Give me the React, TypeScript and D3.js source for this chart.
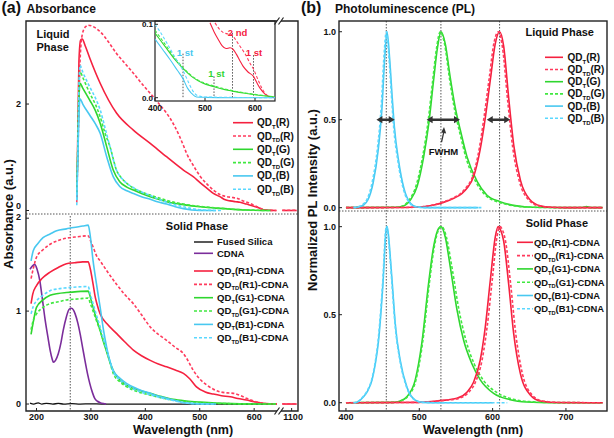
import React from "react";
import * as d3 from "d3";

// ---------------- DATA ----------------
// Absorbance, liquid phase  [wavelength nm, absorbance]
const absLiqRT = [[274,0.2],[276,1.5],[278,2.8],[281,3.2],[284,3.22],[290,3.08],[298,2.86],[317,2.39],[347,1.83],[378,1.51],[409,1.26],[439,1.01],[470,0.76],[488,0.635],[500,0.53],[513,0.42],[525,0.32],[537,0.26],[547,0.2],[556,0.18],[566,0.165],[574,0.155],[586,0.12],[598,0.085],[608,0.05],[617,0.015],[630,0.003],[641,0]];
const absLiqRTD = [[274,0.15],[277,1.5],[280,2.8],[284,3.3],[290,3.45],[295,3.48],[305,3.45],[317,3.36],[332,3.17],[347,2.95],[362,2.77],[378,2.58],[393,2.39],[409,2.2],[424,2.02],[439,1.83],[452,1.62],[463,1.39],[470,1.22],[476,1.07],[488,0.85],[501,0.64],[513,0.5],[525,0.385],[537,0.3],[550,0.26],[560,0.245],[568,0.23],[580,0.18],[592,0.135],[605,0.07],[617,0.02],[630,0.003],[641,0]];
const absLiqGT = [[274,0.3],[276,1.2],[278,2.1],[280,2.39],[285,2.3],[298,2.07],[308,1.88],[317,1.64],[329,1.2],[341,0.76],[353,0.54],[366,0.44],[378,0.385],[393,0.32],[409,0.26],[424,0.21],[439,0.165],[470,0.11],[501,0.07],[530,0.045],[562,0.02],[600,0.005],[630,0]];
const absLiqGTD = [[274,0.2],[276,1.3],[278,2.3],[280,2.61],[285,2.5],[298,2.2],[308,2.0],[317,1.76],[326,1.45],[335,1.2],[347,0.76],[357,0.6],[366,0.51],[378,0.42],[390,0.36],[409,0.29],[427,0.23],[439,0.19],[470,0.12],[501,0.075],[530,0.048],[562,0.022],[600,0.006],[630,0]];
const absLiqBT = [[274,0.2],[276,1.0],[278,1.8],[280,2.1],[285,2.0],[298,1.79],[308,1.63],[317,1.45],[329,1.01],[341,0.635],[353,0.45],[366,0.37],[378,0.32],[393,0.26],[409,0.21],[424,0.16],[439,0.12],[455,0.07],[470,0.035],[485,0.01],[500,0.002],[530,0]];
const absLiqBTD = [[274,0.1],[276,1.2],[278,2.3],[280,2.73],[285,2.6],[298,2.32],[308,2.12],[317,1.89],[326,1.55],[335,1.2],[347,0.76],[357,0.6],[366,0.51],[378,0.43],[390,0.36],[409,0.28],[427,0.2],[450,0.12],[470,0.07],[485,0.035],[501,0.012],[520,0.002],[540,0]];

// Inset (liquid, 400-640 nm)
const insetRT = [[510,0.102],[518,0.09],[526,0.08],[534,0.071],[542,0.067],[550,0.068],[556,0.066],[563,0.059],[570,0.05],[576,0.043],[586,0.035],[597,0.029],[604,0.02],[610,0.013],[617,0.007],[624,0.003],[632,0.001],[640,0]];
const insetRTD = [[520,0.102],[528,0.094],[536,0.089],[545,0.087],[553,0.086],[563,0.077],[572,0.068],[580,0.06],[590,0.047],[597,0.039],[605,0.026],[613,0.014],[620,0.006],[628,0.002],[640,0]];
const insetGT = [[400,0.088],[420,0.07],[440,0.052],[456,0.04],[475,0.028],[495,0.02],[518,0.015],[540,0.011],[555,0.009],[580,0.006],[600,0.004],[640,0.001]];
const insetGTD = [[400,0.092],[420,0.073],[440,0.054],[456,0.041],[475,0.029],[495,0.021],[518,0.016],[540,0.012],[555,0.0095],[580,0.0065],[600,0.0045],[640,0.001]];
const insetBT = [[400,0.08],[415,0.066],[430,0.052],[445,0.037],[456,0.026],[465,0.013],[473,0.006],[483,0.001],[500,0.0005],[550,0],[640,0]];
const insetBTD = [[400,0.1],[410,0.09],[425,0.073],[440,0.055],[456,0.037],[465,0.024],[475,0.01],[485,0.003],[500,0.001],[640,0]];
const insetMarks = [
  { nm: 456, top: 0.06, label: "1 st", lx: 460, ly: 0.062, color: "cyan" },
  { nm: 518, top: 0.029, label: "1 st", lx: 523, ly: 0.033, color: "green" },
  { nm: 555, top: 0.088, label: "2 nd", lx: 565, ly: 0.089, color: "red" },
  { nm: 597, top: 0.058, label: "1 st", lx: 598, ly: 0.062, color: "red" },
];
const insetXTicks = [400, 500, 600];
const insetYTicks = [0, 0.1];

// Absorbance, solid phase
const absSolSilica = [[188,0.01],[195,0],[203,0.012],[210,0],[218,0.008],[230,0],[240,0.006],[250,0],[265,0.004],[280,0],[300,0.002],[320,0],[642,0]];
const absSolCDNA = [[188,1.45],[193,1.49],[197,1.5],[201,1.45],[206,1.33],[211,1.12],[216,0.9],[221,0.72],[225,0.58],[229,0.48],[231,0.45],[235,0.47],[240,0.54],[245,0.66],[249,0.79],[255,0.94],[260,1.02],[264,1.03],[268,1.01],[271,0.97],[276,0.87],[280,0.76],[285,0.6],[289,0.47],[294,0.32],[298,0.22],[303,0.12],[307,0.06],[312,0.03],[317,0.015],[323,0.005],[328,0]];
const absSolRT = [[190,1.08],[193,1.18],[200,1.275],[210,1.35],[225,1.42],[240,1.47],[255,1.51],[270,1.52],[285,1.53],[295,1.53],[299,1.45],[304,1.29],[308,1.15],[311,1.08],[317,0.97],[330,0.86],[347,0.76],[362,0.67],[378,0.58],[393,0.52],[409,0.47],[424,0.43],[439,0.4],[455,0.365],[470,0.33],[482,0.27],[494,0.185],[510,0.13],[525,0.107],[540,0.09],[556,0.078],[570,0.06],[586,0.043],[600,0.025],[617,0.007],[630,0.002],[642,0]];
const absSolRTD = [[190,1.35],[195,1.48],[200,1.58],[212,1.66],[225,1.72],[240,1.76],[255,1.785],[275,1.8],[295,1.81],[299,1.76],[304,1.69],[310,1.6],[317,1.54],[332,1.41],[347,1.29],[362,1.18],[378,1.08],[393,0.96],[409,0.83],[424,0.75],[439,0.686],[455,0.61],[470,0.543],[480,0.45],[488,0.364],[500,0.27],[513,0.204],[525,0.16],[537,0.132],[550,0.12],[562,0.115],[575,0.09],[586,0.061],[600,0.03],[611,0.014],[625,0.003],[642,0]];
const absSolGT = [[190,0.75],[194,0.88],[200,1.04],[212,1.12],[225,1.17],[240,1.19],[255,1.2],[275,1.21],[295,1.215],[299,1.15],[304,1.04],[310,0.92],[317,0.79],[323,0.67],[329,0.56],[335,0.45],[341,0.36],[353,0.26],[366,0.2],[387,0.15],[409,0.115],[430,0.08],[451,0.05],[475,0.032],[501,0.02],[530,0.01],[560,0.004],[600,0.001],[640,0]];
const absSolGTD = [[190,0.8],[194,0.9],[200,0.97],[212,1.04],[225,1.08],[240,1.1],[255,1.12],[275,1.13],[295,1.14],[299,1.08],[304,1.0],[310,0.9],[317,0.79],[323,0.68],[329,0.58],[335,0.45],[341,0.33],[353,0.24],[366,0.185],[387,0.13],[409,0.096],[430,0.065],[451,0.043],[475,0.026],[501,0.014],[530,0.007],[560,0.003],[600,0.001],[640,0]];
const absSolBT = [[190,1.54],[194,1.65],[203,1.73],[212,1.79],[225,1.83],[237,1.865],[255,1.885],[268,1.9],[285,1.915],[295,1.925],[299,1.8],[304,1.54],[310,1.3],[317,1.04],[323,0.8],[329,0.61],[335,0.46],[341,0.36],[353,0.28],[366,0.22],[387,0.16],[409,0.115],[430,0.075],[451,0.043],[466,0.02],[482,0.007],[500,0.002],[530,0]];
const absSolBTD = [[190,0.97],[194,1.05],[200,1.11],[212,1.17],[225,1.22],[240,1.24],[255,1.25],[275,1.26],[295,1.265],[299,1.18],[304,1.08],[310,0.96],[317,0.83],[323,0.7],[329,0.58],[335,0.46],[341,0.35],[353,0.26],[366,0.2],[387,0.14],[409,0.1],[430,0.065],[451,0.038],[466,0.02],[482,0.008],[500,0.002],[530,0]];
const absBreakRange = [1078, 1112];

// PL, liquid phase  [wavelength nm, normalized intensity]
const plLiqBT = [[412,0],[415,0.002],[424,0.015],[430,0.045],[437,0.14],[444,0.33],[449,0.56],[453,0.86],[456,1.0],[459.5,0.85],[463,0.63],[466,0.46],[472,0.26],[479,0.11],[488,0.025],[496,0.005],[510,0],[580,0]];
const plLiqBTD = [[410,0],[414,0.003],[423,0.018],[429,0.05],[436,0.15],[443,0.34],[448,0.57],[452,0.87],[455,1.0],[458.5,0.86],[462,0.64],[465,0.46],[471,0.26],[478,0.11],[487,0.025],[495,0.005],[510,0],[585,0]];
const plLiqGT = [[400,0],[470,0.002],[480,0.012],[488,0.044],[497,0.12],[506,0.29],[513,0.48],[519.5,0.725],[525,0.915],[529.5,1.0],[535.5,0.93],[542,0.745],[549,0.57],[556,0.44],[565,0.29],[579,0.148],[592,0.072],[610,0.034],[633,0.01],[656,0.002],[700,0],[722,0.001],[728,0.007],[734,0],[750,0]];
const plLiqGTD = [[400,0],[469,0.002],[479,0.014],[487,0.048],[496,0.13],[505,0.3],[512,0.49],[518.5,0.73],[524,0.92],[528.5,1.0],[534.5,0.93],[541,0.74],[548,0.56],[555,0.43],[564,0.28],[578,0.14],[591,0.068],[609,0.03],[632,0.009],[655,0.002],[700,0],[750,0]];
const plLiqRT = [[400,0],[480,0.001],[500,0.004],[520,0.015],[533,0.03],[547,0.053],[558,0.08],[565,0.11],[574,0.176],[583,0.33],[590,0.51],[597,0.73],[603.5,0.93],[609.5,1.0],[615,0.92],[622,0.62],[629,0.35],[638,0.155],[651,0.045],[665,0.01],[680,0.002],[700,0],[750,0]];
const plLiqRTD = [[400,0],[480,0.001],[500,0.004],[520,0.016],[532,0.032],[546,0.055],[557,0.083],[564,0.115],[573,0.18],[582,0.34],[588.5,0.52],[595.5,0.74],[602,0.94],[608,1.0],[613.5,0.91],[620.5,0.61],[627.5,0.34],[636.5,0.15],[649.5,0.043],[663,0.01],[680,0.002],[700,0],[750,0]];
const fwhmArrows = [[441.5, 466.5], [510, 555.5], [592, 624]];
const fwhmPointer = [[530.3, 0.373], [533.7, 0.458]];
const fwhmLabelPos = [533, 0.3];

// PL, solid phase
const plSolBT = [[412,0],[415,0.003],[424,0.034],[430,0.07],[435.5,0.129],[440,0.22],[444.5,0.356],[450.5,0.678],[455,0.99],[456,1.0],[457.5,0.97],[460.4,0.83],[464,0.63],[467.2,0.45],[474,0.24],[483,0.09],[494.5,0.015],[505,0.002],[520,0],[600,0]];
const plSolBTD = [[410,0],[414.5,0.003],[423.5,0.035],[429.5,0.072],[435,0.13],[439.5,0.22],[444,0.36],[450,0.68],[454.5,0.99],[455.5,1.0],[457,0.97],[460,0.83],[463.5,0.63],[466.8,0.45],[473.6,0.24],[482.6,0.09],[494,0.015],[505,0.002],[520,0],[620,0]];
const plSolGT = [[400,0],[465,0.002],[474,0.01],[483,0.034],[494.5,0.13],[503.5,0.34],[512.7,0.678],[519.5,0.886],[526.3,0.99],[529.6,1.0],[535.5,0.94],[542.3,0.77],[551.3,0.53],[560.4,0.356],[571.9,0.22],[583.2,0.13],[601.4,0.053],[624,0.017],[646.7,0.004],[680,0],[750,0]];
const plSolGTD = [[400,0],[466,0.002],[475,0.01],[484,0.034],[495.5,0.13],[504.5,0.34],[513.7,0.678],[520.5,0.886],[527.3,0.99],[530.6,1.0],[537,0.94],[544.5,0.77],[554,0.53],[563.5,0.356],[575,0.22],[587,0.13],[605,0.06],[628,0.02],[650,0.006],[680,0.001],[750,0]];
const plSolRT = [[400,0],[500,0.002],[520,0.008],[535.5,0.015],[551.3,0.025],[565,0.06],[574,0.116],[583,0.24],[590,0.43],[596.9,0.697],[603.7,0.943],[607.5,1.0],[611,0.98],[615,0.92],[621.8,0.678],[628.7,0.394],[637.8,0.167],[651.4,0.044],[665,0.01],[690,0.001],[750,0]];
const plSolRTD = [[400,0],[500,0.002],[522,0.008],[538,0.015],[554,0.025],[567.5,0.06],[576.5,0.116],[585.5,0.24],[592.5,0.43],[599.5,0.697],[606,0.943],[610,1.0],[613.5,0.98],[617.5,0.92],[624.5,0.678],[631.5,0.394],[640.5,0.167],[654,0.044],[668,0.01],[692,0.001],[750,0]];
const plPeakLines = [455, 529.5, 609.5];
const cdnaPeakLine = 262;

// Ticks
const xTicksA = [200, 300, 400, 500, 600];
const xTickBreak = [1100];
const yTicksALiq = [0, 2];
const yTicksASol = [0, 1, 2];
const xTicksB = [400, 500, 600, 700];
const yTicksB = [0, 0.5, 1.0];

// ---------------- STYLE ----------------
const FONT = "'Liberation Sans', Arial, Helvetica, sans-serif";
const C = {
  red: "#f5213f",
  redD: "#ff3a5c",
  green: "#2fd62f",
  greenD: "#40e840",
  cyan: "#48c8f0",
  cyanD: "#5ad8ff",
  purple: "#7b2d9b",
  black: "#111",
  axis: "#222",
  dot: "#555",
};
const DASH = "3,2";

// scales
const xA = d3.scaleLinear().domain([180.7, 642]).range([26, 277]);
const xA2 = d3.scaleLinear().domain([1075, 1115]).range([281, 298]);
const yAL = d3.scaleLinear().domain([-0.066, 3.56]).range([214, 21]);
const yAS = d3.scaleLinear().domain([-0.075, 2.045]).range([411, 214]);
const xI = d3.scaleLinear().domain([400, 640]).range([155, 275]);
const yI = d3.scaleLinear().domain([-0.0045, 0.1045]).range([101, 21]);
const xB = d3.scaleLinear().domain([390.5, 756]).range([339, 607]);
const yBL = d3.scaleLinear().domain([-0.019, 1.061]).range([211, 21]);
const yBS = d3.scaleLinear().domain([-0.047, 1.089]).range([411, 211]);

function mkLine(xs: any, ys: any) {
  return d3
    .line<number[]>()
    .x((d) => xs(d[0]))
    .y((d) => ys(d[1]))
    .curve(d3.curveMonotoneX);
}

function Series({ data, xs, ys, color, dash, w = 1.6, clip }: any) {
  return (
    <path
      d={mkLine(xs, ys)(data) || ""}
      fill="none"
      stroke={color}
      strokeWidth={w}
      strokeDasharray={dash ? DASH : undefined}
      clipPath={clip ? `url(#${clip})` : undefined}
    />
  );
}

function QD({ x, y, sub, rest, fs }: any) {
  return (
    <text x={x} y={y} fontSize={fs} fontWeight="bold" fontFamily={FONT} fill="#111">
      QD
      <tspan fontSize={fs * 0.6} dy={fs * 0.28}>{sub}</tspan>
      <tspan dy={-fs * 0.28}>{rest}</tspan>
    </text>
  );
}

function DoubleArrow({ x0, x1, y }: any) {
  const h = 6, hw = 3.6, t = 1.3;
  const d = `M${x0},${y} L${x0 + h},${y - hw} L${x0 + h},${y - t} L${x1 - h},${y - t} L${x1 - h},${y - hw} L${x1},${y} L${x1 - h},${y + hw} L${x1 - h},${y + t} L${x0 + h},${y + t} L${x0 + h},${y + hw} Z`;
  return <path d={d} fill="#333" />;
}

export default function App() {
  const liqSeries = [
    { label: ["T", "(R)"], data: absLiqRT, color: C.red, dash: false },
    { label: ["TD", "(R)"], data: absLiqRTD, color: C.redD, dash: true },
    { label: ["T", "(G)"], data: absLiqGT, color: C.green, dash: false },
    { label: ["TD", "(G)"], data: absLiqGTD, color: C.greenD, dash: true },
    { label: ["T", "(B)"], data: absLiqBT, color: C.cyan, dash: false },
    { label: ["TD", "(B)"], data: absLiqBTD, color: C.cyanD, dash: true },
  ];
  const insetSeries = [
    { data: insetRT, color: C.red, dash: false },
    { data: insetRTD, color: C.redD, dash: true },
    { data: insetGT, color: C.green, dash: false },
    { data: insetGTD, color: C.greenD, dash: true },
    { data: insetBT, color: C.cyan, dash: false },
    { data: insetBTD, color: C.cyanD, dash: true },
  ];
  const solSeries = [
    { label: ["T", "(R1)-CDNA"], data: absSolRT, color: C.red, dash: false },
    { label: ["TD", "(R1)-CDNA"], data: absSolRTD, color: C.redD, dash: true },
    { label: ["T", "(G1)-CDNA"], data: absSolGT, color: C.green, dash: false },
    { label: ["TD", "(G1)-CDNA"], data: absSolGTD, color: C.greenD, dash: true },
    { label: ["T", "(B1)-CDNA"], data: absSolBT, color: C.cyan, dash: false },
    { label: ["TD", "(B1)-CDNA"], data: absSolBTD, color: C.cyanD, dash: true },
  ];
  const plLiq = [
    { label: ["T", "(R)"], data: plLiqRT, color: C.red, dash: false },
    { label: ["TD", "(R)"], data: plLiqRTD, color: C.redD, dash: true },
    { label: ["T", "(G)"], data: plLiqGT, color: C.green, dash: false },
    { label: ["TD", "(G)"], data: plLiqGTD, color: C.greenD, dash: true },
    { label: ["T", "(B)"], data: plLiqBT, color: C.cyan, dash: false },
    { label: ["TD", "(B)"], data: plLiqBTD, color: C.cyanD, dash: true },
  ];
  const plSol = [
    { label: ["T", "(R1)-CDNA"], data: plSolRT, color: C.red, dash: false },
    { label: ["TD", "(R1)-CDNA"], data: plSolRTD, color: C.redD, dash: true },
    { label: ["T", "(G1)-CDNA"], data: plSolGT, color: C.green, dash: false },
    { label: ["TD", "(G1)-CDNA"], data: plSolGTD, color: C.greenD, dash: true },
    { label: ["T", "(B1)-CDNA"], data: plSolBT, color: C.cyan, dash: false },
    { label: ["TD", "(B1)-CDNA"], data: plSolBTD, color: C.cyanD, dash: true },
  ];
  const plOrder = [2, 3, 0, 1, 4, 5];
  const markColor: any = { cyan: C.cyan, green: C.green, red: C.red };

  const tickStyle = { stroke: C.axis, strokeWidth: 1 };
  const tf = { fontFamily: FONT, fontWeight: "bold" as const, fill: "#111" };
  const tickBase = 420;
  const titleBase = 434;

  return (
    <svg width={614} height={438} style={{ position: "absolute", left: 0, top: 0, background: "#fff" }}>
      <defs>
        <clipPath id="cAL"><rect x={26} y={21} width={251} height={193} /></clipPath>
        <clipPath id="cAS"><rect x={26} y={214} width={251} height={197} /></clipPath>
        <clipPath id="cI"><rect x={155} y={21} width={120} height={80} /></clipPath>
        <clipPath id="cBL"><rect x={339} y={21} width={268} height={190} /></clipPath>
        <clipPath id="cBS"><rect x={339} y={211} width={268} height={200} /></clipPath>
      </defs>
      <rect x={0} y={0} width={614} height={438} fill="#fff" />

      {/* ---------- Titles ---------- */}
      <text x={1.5} y={13} fontSize={16} {...tf}>(a)</text>
      <text x={26.5} y={13} fontSize={12} {...tf}>Absorbance</text>
      <text x={301} y={13} fontSize={16} {...tf}>(b)</text>
      <text x={335} y={13} fontSize={12} {...tf}>Photoluminescence (PL)</text>

      {/* ================= PANEL A ================= */}
      {liqSeries.map((s, i) => (
        <Series key={"al" + i} data={s.data} xs={xA} ys={yAL} color={s.color} dash={s.dash} clip="cAL" />
      ))}
      <line x1={xA2(absBreakRange[0])} x2={xA2(absBreakRange[1])} y1={yAL(0)} y2={yAL(0)} stroke={C.red} strokeWidth={1.6} />
      <line x1={xA2(absBreakRange[0])} x2={xA2(absBreakRange[1])} y1={yAL(0) - 0.3} y2={yAL(0) - 0.3} stroke={C.redD} strokeWidth={1.6} strokeDasharray={DASH} />
      <line x1={xA2(absBreakRange[0])} x2={xA2(absBreakRange[1])} y1={yAS(0)} y2={yAS(0)} stroke={C.red} strokeWidth={1.6} />
      <line x1={xA2(absBreakRange[0])} x2={xA2(absBreakRange[1])} y1={yAS(0) - 0.3} y2={yAS(0) - 0.3} stroke={C.redD} strokeWidth={1.6} strokeDasharray={DASH} />

      {/* inset */}
      <rect x={155} y={21} width={120} height={80} fill="#fff" stroke={C.axis} strokeWidth={1.2} />
      {insetMarks.map((m, i) => (
        <line key={"im" + i} x1={xI(m.nm)} x2={xI(m.nm)} y1={yI(m.top)} y2={yI(0)} stroke={C.dot} strokeWidth={1} strokeDasharray="1.5,1.5" />
      ))}
      {insetSeries.map((s, i) => (
        <Series key={"in" + i} data={s.data} xs={xI} ys={yI} color={s.color} dash={s.dash} w={1.1} clip="cI" />
      ))}
      {insetMarks.map((m, i) => (
        <text key={"iml" + i} x={xI(m.lx)} y={yI(m.ly) + 3.5} fontSize={9.5} textAnchor="middle" fontFamily={FONT} fontWeight="bold" fill={markColor[m.color]}>{m.label}</text>
      ))}
      {insetXTicks.map((t) => (
        <g key={"ix" + t}>
          <line x1={xI(t)} x2={xI(t)} y1={101} y2={98} {...tickStyle} />
          <text x={xI(t)} y={111} fontSize={8.5} textAnchor="middle" {...tf}>{t}</text>
        </g>
      ))}
      {insetYTicks.map((t) => (
        <g key={"iy" + t}>
          <line x1={155} x2={158} y1={yI(t)} y2={yI(t)} {...tickStyle} />
          <text x={153} y={yI(t) + 3} fontSize={8} textAnchor="end" {...tf}>{t.toFixed(1)}</text>
        </g>
      ))}

      <text x={36.5} y={38} fontSize={11} {...tf}>Liquid</text>
      <text x={36.5} y={51} fontSize={11} {...tf}>Phase</text>
      {liqSeries.map((s, i) => {
        const y = 122.7 + i * 13.3;
        return (
          <g key={"alg" + i}>
            <line x1={233} x2={253} y1={y} y2={y} stroke={s.color} strokeWidth={1.6} strokeDasharray={s.dash ? DASH : undefined} />
            <QD x={257} y={y + 3.5} sub={s.label[0]} rest={s.label[1]} fs={10} />
          </g>
        );
      })}

      <line x1={26} x2={298} y1={214} y2={214} stroke={C.dot} strokeWidth={1} strokeDasharray="1.5,1.5" />

      <line x1={xA(cdnaPeakLine)} x2={xA(cdnaPeakLine)} y1={216} y2={411} stroke={C.dot} strokeWidth={1} strokeDasharray="1.5,1.5" />
      <Series data={absSolSilica} xs={xA} ys={yAS} color={C.black} dash={false} w={1.3} clip="cAS" />
      <Series data={absSolCDNA} xs={xA} ys={yAS} color={C.purple} dash={false} clip="cAS" />
      {solSeries.map((s, i) => (
        <Series key={"as" + i} data={s.data} xs={xA} ys={yAS} color={s.color} dash={s.dash} clip="cAS" />
      ))}

      <text x={197} y={229.5} fontSize={11} textAnchor="middle" {...tf}>Solid Phase</text>
      <line x1={194} x2={213} y1={242} y2={242} stroke={C.black} strokeWidth={1.4} />
      <text x={217} y={245.3} fontSize={9.5} {...tf}>Fused Silica</text>
      <line x1={194} x2={213} y1={253.3} y2={253.3} stroke={C.purple} strokeWidth={1.6} />
      <text x={217} y={256.6} fontSize={9.5} {...tf}>CDNA</text>
      {solSeries.map((s, i) => {
        const y = 271 + i * 13.35;
        return (
          <g key={"asg" + i}>
            <line x1={194} x2={213} y1={y} y2={y} stroke={s.color} strokeWidth={1.6} strokeDasharray={s.dash ? DASH : undefined} />
            <QD x={217} y={y + 3.4} sub={s.label[0]} rest={s.label[1]} fs={9.6} />
          </g>
        );
      })}

      <path d="M277,21 L26,21 L26,411 L277,411 M281,411 L298,411 L298,21 L281,21" fill="none" stroke={C.axis} strokeWidth={1.4} />
      <path d="M274.5,24.5 L279.5,17.5 M278.5,24.5 L283.5,17.5 M274.5,414.5 L279.5,407.5 M278.5,414.5 L283.5,407.5" stroke={C.axis} strokeWidth={1.2} />

      {xTicksA.map((t) => (
        <g key={"xa" + t}>
          <line x1={xA(t)} x2={xA(t)} y1={411} y2={408} {...tickStyle} />
          <text x={xA(t)} y={tickBase} fontSize={9} textAnchor="middle" {...tf}>{t}</text>
        </g>
      ))}
      {xTickBreak.map((t) => (
        <g key={"xb" + t}>
          <line x1={xA2(t)} x2={xA2(t)} y1={411} y2={408} {...tickStyle} />
          <text x={xA2(t) + 1.5} y={tickBase} fontSize={9} textAnchor="middle" {...tf}>{t}</text>
        </g>
      ))}
      {yTicksALiq.map((t) => (
        <g key={"yal" + t}>
          <line x1={26} x2={29} y1={yAL(t)} y2={yAL(t)} {...tickStyle} />
          <text x={21} y={t === 0 ? 208.6 : yAL(t) + 3.3} fontSize={9} textAnchor="end" {...tf}>{t}</text>
        </g>
      ))}
      {yTicksASol.map((t) => (
        <g key={"yas" + t}>
          <line x1={26} x2={29} y1={yAS(t)} y2={yAS(t)} {...tickStyle} />
          <text x={21} y={t === 2 ? 220.2 : yAS(t) + 3.3} fontSize={9} textAnchor="end" {...tf}>{t}</text>
        </g>
      ))}
      <text x={183} y={titleBase} fontSize={12.5} textAnchor="middle" {...tf}>Wavelength (nm)</text>
      <text transform="translate(13,214) rotate(-90)" fontSize={13} textAnchor="middle" {...tf}>Absorbance (a.u.)</text>

      {/* ================= PANEL B ================= */}
      {plPeakLines.map((p) => (
        <line key={"pk" + p} x1={xB(p)} x2={xB(p)} y1={21} y2={411} stroke={C.dot} strokeWidth={1} strokeDasharray="1.5,1.5" />
      ))}
      <line x1={339} x2={607} y1={211} y2={211} stroke={C.dot} strokeWidth={1} strokeDasharray="1.5,1.5" />

      {plOrder.map((i) => (
        <Series key={"pl" + i} data={plLiq[i].data} xs={xB} ys={yBL} color={plLiq[i].color} dash={plLiq[i].dash} clip="cBL" />
      ))}
      {plOrder.map((i) => (
        <Series key={"ps" + i} data={plSol[i].data} xs={xB} ys={yBS} color={plSol[i].color} dash={plSol[i].dash} clip="cBS" />
      ))}

      {fwhmArrows.map((a, i) => (
        <DoubleArrow key={"fa" + i} x0={xB(a[0])} x1={xB(a[1])} y={yBL(0.5)} />
      ))}
      <line x1={xB(fwhmPointer[0][0])} y1={yBL(fwhmPointer[0][1])} x2={xB(fwhmPointer[1][0])} y2={yBL(fwhmPointer[1][1]) + 4} stroke="#333" strokeWidth={1.3} />
      <path d={`M${xB(fwhmPointer[1][0])},${yBL(fwhmPointer[1][1])} l-2.8,5.5 l5,0.8 Z`} fill="#333" />
      <text x={xB(fwhmLabelPos[0])} y={yBL(fwhmLabelPos[1])} fontSize={9.5} textAnchor="middle" {...tf}>FWHM</text>

      <text x={594} y={36} fontSize={11} textAnchor="end" {...tf}>Liquid Phase</text>
      {plLiq.map((s, i) => {
        const y = 57.3 + i * 12.2;
        return (
          <g key={"blg" + i}>
            <line x1={545} x2={563} y1={y} y2={y} stroke={s.color} strokeWidth={1.6} strokeDasharray={s.dash ? DASH : undefined} />
            <QD x={567.5} y={y + 3.5} sub={s.label[0]} rest={s.label[1]} fs={10} />
          </g>
        );
      })}
      <text x={588} y={227} fontSize={11} textAnchor="end" {...tf}>Solid Phase</text>
      {plSol.map((s, i) => {
        const y = 242.3 + i * 13.3;
        return (
          <g key={"bsg" + i}>
            <line x1={517} x2={533} y1={y} y2={y} stroke={s.color} strokeWidth={1.6} strokeDasharray={s.dash ? DASH : undefined} />
            <QD x={534} y={y + 3.4} sub={s.label[0]} rest={s.label[1]} fs={9.4} />
          </g>
        );
      })}

      <rect x={339} y={21} width={268} height={390} fill="none" stroke={C.axis} strokeWidth={1.4} />
      {xTicksB.map((t) => (
        <g key={"xbt" + t}>
          <line x1={xB(t)} x2={xB(t)} y1={411} y2={408} {...tickStyle} />
          <text x={xB(t)} y={tickBase} fontSize={9} textAnchor="middle" {...tf}>{t}</text>
        </g>
      ))}
      {yTicksB.map((t) => (
        <g key={"ybl" + t}>
          <line x1={339} x2={342} y1={yBL(t)} y2={yBL(t)} {...tickStyle} />
          <text x={336} y={yBL(t) + 3.3} fontSize={9} textAnchor="end" {...tf}>{t.toFixed(1)}</text>
          <line x1={339} x2={342} y1={yBS(t)} y2={yBS(t)} {...tickStyle} />
          <text x={336} y={yBS(t) + 3.3} fontSize={9} textAnchor="end" {...tf}>{t.toFixed(1)}</text>
        </g>
      ))}
      <text x={473} y={titleBase} fontSize={12.5} textAnchor="middle" {...tf}>Wavelength (nm)</text>
      <text transform="translate(316.5,200) rotate(-90)" fontSize={13} textAnchor="middle" {...tf}>Normalized PL Intensity (a.u.)</text>
    </svg>
  );
}
